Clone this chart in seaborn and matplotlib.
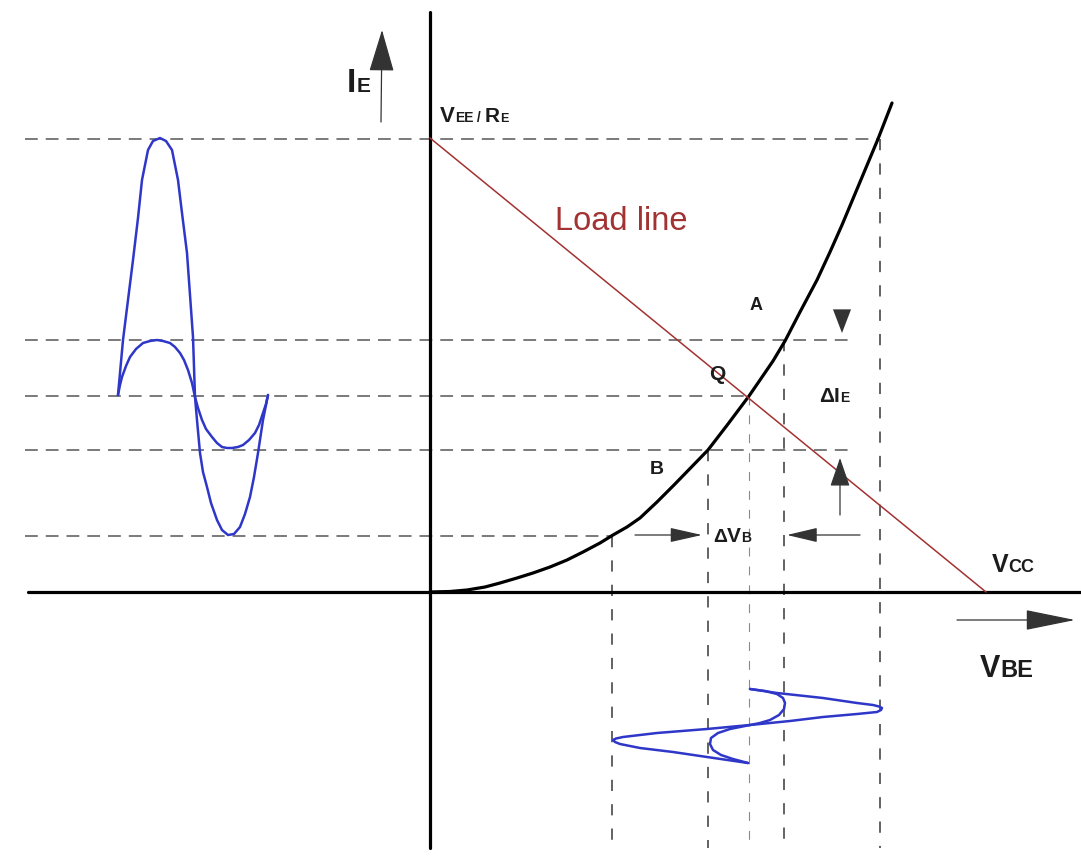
import numpy as np
import pandas as pd
import matplotlib
matplotlib.use("Agg")
import matplotlib.pyplot as plt
import matplotlib.transforms as mtransforms
from matplotlib.patches import FancyArrowPatch
import seaborn as sns

# ---------------- data (diagram units: V_BE to the right, I_E upward) ----------------
curve_vbe = [0.00, 0.20, 0.37, 0.55, 0.70, 0.87, 1.03, 1.20, 1.37, 1.53, 1.70, 1.83, 1.97, 2.10,
             2.27, 2.44, 2.61, 2.78, 2.98, 3.19, 3.30, 3.43, 3.55, 3.70, 3.87, 4.00, 4.12, 4.30,
             4.48, 4.62]
curve_ie = [0.00, 0.005, 0.02, 0.05, 0.09, 0.14, 0.19, 0.25, 0.32, 0.40, 0.49, 0.57, 0.65, 0.74,
            0.90, 1.07, 1.245, 1.42, 1.68, 1.96, 2.12, 2.31, 2.51, 2.80, 3.12, 3.40, 3.67, 4.10,
            4.53, 4.89]

load_vbe = [0.00, 5.56]
load_ie = [4.54, 0.00]

# horizontal projection levels: VEE/RE, A, Q, B, lowest
levels_ie = [4.53, 2.52, 1.96, 1.42, 0.56]
levels_start = -4.05
levels_end = [4.48, 4.18, 3.19, 4.25, 1.82]

# vertical projection lines: lowest, B, Q, A, top
verticals_vbe = [1.82, 2.78, 3.19, 3.54, 4.50]
verticals_top = [0.56, 1.42, 1.96, 2.52, 4.53]
verticals_bottom = -2.56

# output waveform of I_E (left), time runs to the right
ie_big_t = [-3.12, -3.07, -3.02, -2.97, -2.92, -2.88, -2.82, -2.77, -2.70, -2.64, -2.58, -2.52,
            -2.48, -2.43, -2.40, -2.37, -2.35, -2.33, -2.30, -2.27, -2.23, -2.19, -2.13, -2.08,
            -2.02, -1.96, -1.90, -1.85, -1.80, -1.76, -1.72, -1.67, -1.62]
ie_big = [1.97, 2.52, 2.92, 3.32, 3.74, 4.12, 4.42, 4.51, 4.54, 4.51, 4.42, 4.12,
          3.79, 3.39, 2.97, 2.55, 1.95, 1.72, 1.39, 1.20, 1.05, 0.89, 0.72, 0.62,
          0.57, 0.58, 0.65, 0.78, 0.95, 1.15, 1.39, 1.72, 1.97]
ie_small_t = [-3.12, -3.10, -3.08, -3.04, -3.00, -2.94, -2.87, -2.80, -2.73, -2.67, -2.60,
              -2.55, -2.50, -2.46, -2.42, -2.38, -2.35, -2.32, -2.28, -2.24, -2.18, -2.13,
              -2.08, -2.03, -1.98, -1.92, -1.87, -1.81, -1.75, -1.71, -1.67, -1.64, -1.62]
ie_small = [1.97, 2.07, 2.15, 2.26, 2.35, 2.43, 2.49, 2.51, 2.52, 2.51, 2.49,
            2.45, 2.39, 2.32, 2.22, 2.09, 1.95, 1.84, 1.72, 1.63, 1.55, 1.49,
            1.45, 1.44, 1.44, 1.45, 1.47, 1.52, 1.59, 1.67, 1.79, 1.88, 1.97]

# input waveform of V_BE (bottom), time runs downward
vbe_big_t = [-0.97, -1.01, -1.06, -1.11, -1.13, -1.145, -1.16, -1.18, -1.20, -1.22, -1.25,
             -1.29, -1.33, -1.37, -1.41, -1.45, -1.465, -1.48, -1.50, -1.52, -1.56, -1.60,
             -1.65, -1.71]
vbe_big = [3.20, 3.47, 3.93, 4.27, 4.43, 4.49, 4.52, 4.51, 4.47, 4.27, 3.93,
           3.60, 3.20, 2.77, 2.27, 1.93, 1.86, 1.83, 1.85, 1.90, 2.10, 2.43,
           2.77, 3.18]
vbe_small_t = [-0.97, -0.99, -1.02, -1.06, -1.11, -1.17, -1.23, -1.28, -1.31, -1.33,
               -1.37, -1.41, -1.46, -1.52, -1.58, -1.63, -1.67, -1.71]
vbe_small = [3.20, 3.35, 3.47, 3.53, 3.55, 3.54, 3.49, 3.40, 3.30, 3.20,
             3.00, 2.88, 2.81, 2.80, 2.83, 2.91, 3.03, 3.18]

# ---------------- style ----------------
sns.set_theme(style="white")
FONT = ["Liberation Sans", "DejaVu Sans"]
plt.rcParams["font.family"] = FONT
plt.rcParams["lines.solid_joinstyle"] = "round"
plt.rcParams["lines.solid_capstyle"] = "round"
TXT = "#1c1c1c"
BLUE = "#2f37c8"
RED = "#a33232"
DASH = "#5c5c5c"

fig = plt.figure(figsize=(10.81, 8.61), dpi=100)
ax = fig.add_axes([0, 0, 1, 1])
ax.set_xlim(-4.30, 6.51)
ax.set_ylim(-2.69, 5.92)
ax.axis("off")

# projection lines
for lvl, end in zip(levels_ie, levels_end):
    ax.plot([levels_start, end], [lvl, lvl], color=DASH, lw=1.15, dashes=(8, 5),
            solid_capstyle="butt", dash_capstyle="butt", zorder=1)
for i, (v, top) in enumerate(zip(verticals_vbe, verticals_top)):
    light = (i == 2)
    ax.plot([v, v], [top, verticals_bottom], color="#8a8a8a" if light else DASH,
            lw=0.8 if light else 1.35, dashes=(8, 9) if light else (6, 7),
            dash_capstyle="butt", zorder=1)

# axes of the diagram
ax.plot([0, 0], [5.80, -2.56], color="black", lw=2.3, zorder=3)
ax.plot([-4.02, 6.51], [0, 0], color="black", lw=2.3, zorder=3)

# characteristic curve
df_curve = pd.DataFrame({"vbe": curve_vbe, "ie": curve_ie})
sns.lineplot(data=df_curve, x="vbe", y="ie", sort=False, estimator=None,
             color="black", lw=2.3, ax=ax, zorder=4)

# load line
df_load = pd.DataFrame({"vbe": load_vbe, "ie": load_ie})
sns.lineplot(data=df_load, x="vbe", y="ie", sort=False, estimator=None,
             color=RED, lw=1.1, ax=ax, zorder=5)

# waveforms
for tt, vv in [(ie_big_t, ie_big), (ie_small_t, ie_small)]:
    sns.lineplot(x=tt, y=vv, sort=False, estimator=None, color=BLUE, lw=1.8, ax=ax, zorder=4)
for tt, vv in [(vbe_big_t, vbe_big), (vbe_small_t, vbe_small)]:
    sns.lineplot(x=vv, y=tt, sort=False, estimator=None, color=BLUE, lw=1.8, ax=ax, zorder=4)
ax.set_xlabel("")
ax.set_ylabel("")


def arrow(p0, p1, hl, hw, lw=0.9, color="#333333", tail=True):
    style = f"-|>,head_length={hl},head_width={hw}"
    a = FancyArrowPatch(p0, p1, arrowstyle=style, mutation_scale=1,
                        color=color, lw=lw if tail else 0.01, shrinkA=0, shrinkB=0, zorder=6)
    ax.add_patch(a)


arrow((-0.49, 4.70), (-0.48, 5.62), 27, 8)        # I_E axis arrow
arrow((5.27, -0.28), (6.45, -0.28), 32, 6.5)      # V_BE axis arrow
arrow((4.12, 2.84), (4.12, 2.59), 17, 6.5, tail=False)   # delta IE top
arrow((4.10, 0.77), (4.10, 1.34), 18, 6.2)        # delta IE bottom
arrow((2.05, 0.57), (2.72, 0.57), 20, 4.5)        # delta VB left
arrow((4.30, 0.57), (3.57, 0.57), 19, 4.5)        # delta VB right

renderer = fig.canvas.get_renderer()


def label(x, y, parts, color=TXT, weight="bold"):
    dx = 0.0
    for text, size in parts:
        tr = mtransforms.offset_copy(ax.transData, fig=fig, x=dx, y=0, units="points")
        t = ax.text(x, y, text, transform=tr, fontsize=size, fontweight=weight,
                    color=color, ha="left", va="baseline", zorder=7)
        bb = t.get_window_extent(renderer)
        dx += bb.width * 72.0 / fig.dpi


label(-0.83, 5.00, [("I", 24), ("E", 15)])
label(0.10, 4.70, [("V", 16), ("EE", 10), (" / ", 10), ("R", 15), ("E", 9)])
label(1.25, 3.62, [("Load line", 23.5)], color=RED, weight="normal")
label(3.20, 2.82, [("A", 13)])
label(2.79, 2.12, [("Q", 15)])
label(3.89, 1.90, [("\u0394", 15), ("I", 15), ("E", 10)])
label(2.20, 1.18, [("B", 14)])
label(2.83, 0.50, [("\u0394", 14), ("V", 15), ("B", 10)])
label(5.62, 0.20, [("V", 18), ("CC", 13)])
label(5.50, -0.85, [("V", 22), ("BE", 17)])

fig.savefig("out.png", dpi=100)
